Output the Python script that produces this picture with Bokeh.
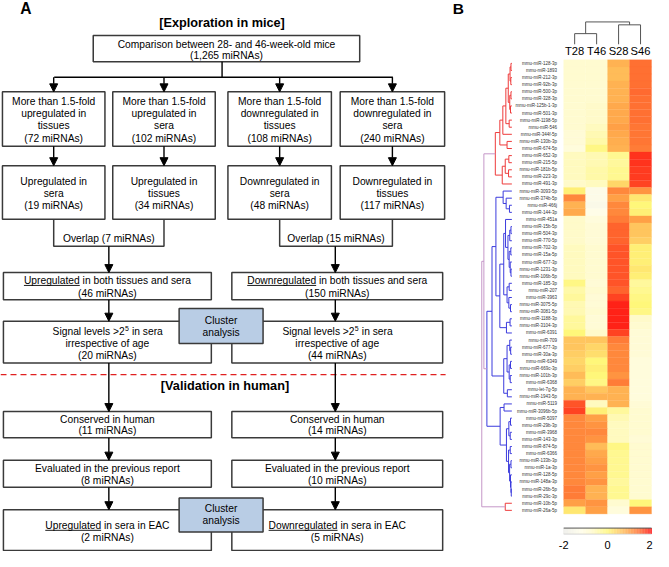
import numpy as np
from bokeh.plotting import figure
from bokeh.models import Range1d, Arrow, NormalHead, ColumnDataSource
from bokeh.layouts import row
from bokeh.embed import file_html
from bokeh.resources import INLINE
from bokeh.core.properties import value

# ===================== DATA: heatmap (panel B) =====================
mirnas = [
    "mmu-miR-128-3p", "mmu-miR-1893", "mmu-miR-212-3p", "mmu-miR-92b-3p", "mmu-miR-500-3p",
    "mmu-miR-328-3p", "mmu-miR-125b-1-3p", "mmu-miR-501-3p", "mmu-miR-1198-5p", "mmu-miR-546",
    "mmu-miR-344f-5p", "mmu-miR-130b-3p", "mmu-miR-674-5p", "mmu-miR-652-3p", "mmu-miR-215-5p",
    "mmu-miR-181b-5p", "mmu-miR-223-3p", "mmu-miR-491-3p", "mmu-miR-3093-5p", "mmu-miR-374b-5p",
    "mmu-miR-466j", "mmu-miR-144-3p", "mmu-miR-451a", "mmu-miR-15b-5p", "mmu-miR-504-3p",
    "mmu-miR-770-5p", "mmu-miR-702-3p", "mmu-miR-15a-5p", "mmu-miR-677-3p", "mmu-miR-1231-3p",
    "mmu-miR-106b-5p", "mmu-miR-185-3p", "mmu-miR-207", "mmu-miR-3963", "mmu-miR-3075-5p",
    "mmu-miR-3081-5p", "mmu-miR-1188-3p", "mmu-miR-3104-3p", "mmu-miR-6391", "mmu-miR-709",
    "mmu-miR-677-3p", "mmu-miR-30a-3p", "mmu-miR-6349", "mmu-miR-669c-3p", "mmu-miR-101b-3p",
    "mmu-miR-6368", "mmu-let-7g-5p", "mmu-miR-1943-5p", "mmu-miR-5119", "mmu-miR-3096b-5p",
    "mmu-miR-5097", "mmu-miR-29b-3p", "mmu-miR-3968", "mmu-miR-143-3p", "mmu-miR-874-5p",
    "mmu-miR-6366", "mmu-miR-133b-3p", "mmu-miR-1a-3p", "mmu-miR-128-5p", "mmu-miR-148a-3p",
    "mmu-miR-26b-5p", "mmu-miR-29c-3p", "mmu-miR-10b-5p", "mmu-miR-26a-5p",
]
samples = ["T28", "T46", "S28", "S46"]
t28 = [-0.8, -0.8, -0.8, -0.8, -0.8, -0.8, -0.8, -0.8, -0.8, -0.8,
       -0.9, -0.9, -1.0, -0.6, -0.6, -0.6, -0.6, -0.7, 0.1, 1.2,
       0.8, 0.9, -0.7, -0.7, -0.7, -0.7, -0.6, -0.6, -0.6, -0.6,
       -0.6, -0.1, -0.4, -0.3, -0.5, -0.5, -0.3, -0.3, 0.0, 0.6,
       0.6, 0.5, 0.4, 0.5, 0.7, 0.5, 0.8, 0.8, 1.6, 1.7,
       1.2, 1.2, 1.2, 1.2, 1.2, 1.2, 1.2, 1.2, 1.2, 1.2,
       1.3, 1.3, 1.0, 0.2]
t46 = [-0.8, -0.8, -0.8, -0.8, -0.8, -0.8, -0.7, -0.7, -0.7, -0.6,
       -0.5, -0.4, -0.1, -0.5, -0.5, -0.4, -0.4, -0.6, -1.3, -1.3,
       -1.4, -1.2, -1.0, -0.9, -0.9, -0.9, -0.8, -0.8, -0.8, -0.8,
       -0.8, -0.9, -0.8, -0.9, -0.9, -0.8, -0.9, -0.9, -0.7, 0.6,
       0.4, 0.3, 0.0, 0.1, 0.0, -0.1, 0.6, 0.8, -0.6, 0.1,
       1.0, 1.1, 1.2, 1.1, 0.7, 0.9, 1.0, 1.1, 1.0, 1.1,
       0.8, 0.8, 1.1, 1.0]
s28 = [0.8, 0.7, 0.7, 0.8, 0.8, 0.8, 0.9, 0.9, 0.9, 1.0,
       0.9, 0.85, 0.8, -0.2, -0.3, -0.2, -0.2, 0.4, 1.2, 1.0,
       1.2, 1.2, 1.3, 1.5, 1.5, 1.5, 1.6, 1.6, 1.6, 1.6,
       1.6, 1.6, 1.5, 1.7, 1.9, 1.9, 1.9, 1.9, 1.7, 1.3,
       1.2, 1.2, 1.2, 1.2, 1.1, 1.3, 0.8, 0.8, 0.8, -0.3,
       -0.5, -0.6, -0.6, -0.6, -0.1, -0.2, -0.2, -0.2, -0.2, -0.3,
       -0.2, -0.2, -0.8, -1.0]
s46 = [1.4, 1.4, 1.4, 1.4, 1.45, 1.4, 1.4, 1.4, 1.4, 1.35,
       1.35, 1.35, 1.3, 1.8, 1.8, 1.75, 1.75, 1.7, 1.1, 0.2,
       0.0, 0.1, 1.0, 0.6, 0.6, 0.5, 0.1, 0.1, 0.1, 0.2,
       0.1, -0.3, -0.2, -0.1, 0.0, -0.1, -0.7, -0.8, -0.9, -0.9,
       -0.9, -0.9, -1.0, -1.0, -1.0, -1.0, -1.0, -1.0, -0.9, -0.8,
       -0.8, -0.8, -0.8, -0.9, -0.8, -0.8, -0.8, -0.8, -0.8, -0.8,
       -0.8, -0.8, 0.0, 1.1]
# rows in the "upregulated" clusters (rest are "downregulated")
up_rows = list(range(0, 18)) + [62, 63]

# row dendrogram as nested (height, left, right); leaves are row indices
tree_A = (5.5,
          (4.0,
           (3.0,
            (2.0,
             (1.2, (0.6, (0.3, 0, 1), (0.35, 2, 3)), (0.7, (0.3, 4, 5), (0.45, 6, 7))),
             (0.9, 8, 9)),
            10),
           (1.6, 11, 12)),
          (3.2, (2.2, (1.0, 13, 14), (1.1, 15, 16)), 17))
tree_B1 = (5.3,
           (2.9, 18, (1.9, 19, (0.8, 20, 21))),
           (4.0,
            (2.7,
             (2.1, 22, (1.3, (0.7, (0.3, 23, 24), 25),
                        (0.9, (0.35, 26, 27), (0.55, 28, (0.3, 29, 30))))),
             (1.6, (0.9, 31, 32), (1.0, 33, (0.45, 34, 35)))),
            (1.8, (0.6, 36, 37), 38)))
tree_B2 = (2.7, (1.6, (0.7, 39, (0.4, 40, 41)), (0.9, (0.45, 42, 43), (0.55, 44, 45))),
           (1.5, 46, 47))
tree_B3 = (3.9, (2.6, 48, 49),
           (1.8, (1.0, (0.45, 50, 51), (0.55, 52, 53)),
            (1.1, (0.55, 54, 55), (0.75, (0.3, 56, 57), (0.45, 58, (0.3, 59, (0.2, 60, 61)))))))
tree_C = (2.2, 62, 63)
row_tree = (10.0, (9.3, tree_A, (8.3, (6.6, tree_B1, tree_B2), tree_B3)), tree_C)
col_tree = (3.15, (1.5, 0, 1), (2.74, 2, 3))

cbar_ticks = [-2, 0, 2]

# colour scale anchors (value -> rgb)
cmap_v = [-2.0, -1.2, -0.7, 0.0, 0.5, 1.0, 1.5, 2.0]
cmap_c = [(236, 236, 232), (255, 253, 232), (255, 250, 202), (255, 247, 122),
          (255, 206, 100), (255, 160, 70), (255, 100, 45), (255, 18, 18)]

# ===================== DATA: flowchart (panel A) texts =====================
top_text = ["Comparison between 28- and 46-week-old mice", "(1,265 miRNAs)"]
row2_text = [["More than 1.5-fold", "upregulated in", "tissues", "(72 miRNAs)"],
             ["More than 1.5-fold", "upregulated in", "sera", "(102 miRNAs)"],
             ["More than 1.5-fold", "downregulated in", "tissues", "(108 miRNAs)"],
             ["More than 1.5-fold", "downregulated in", "sera", "(240 miRNAs)"]]
row3_text = [["Upregulated in", "sera", "(19 miRNAs)"],
             ["Upregulated in", "tissues", "(34 miRNAs)"],
             ["Downregulated in", "sera", "(48 miRNAs)"],
             ["Downregulated in", "tissues", "(117 miRNAs)"]]
overlap_text = ["Overlap (7 miRNAs)", "Overlap (15 miRNAs)"]
row4_text = [("Upregulated", " in both tissues and sera", "(46 miRNAs)"),
             ("Downregulated", " in both tissues and sera", "(150 miRNAs)")]
row5_counts = ["(20 miRNAs)", "(44 miRNAs)"]
row6_text = [["Conserved in human", "(11 miRNAs)"], ["Conserved in human", "(14 miRNAs)"]]
row7_text = [["Evaluated in the previous report", "(8 miRNAs)"],
             ["Evaluated in the previous report", "(10 miRNAs)"]]
row8_text = [("Upregulated", " in sera in EAC", "(2 miRNAs)"),
             ("Downregulated", " in sera in EAC", "(5 miRNAs)")]

# ===================== helpers =====================
FONT = "Liberation Sans"
AW = {' ': 278, 'a': 556, 'b': 556, 'c': 500, 'd': 556, 'e': 556, 'f': 278, 'g': 556, 'h': 556,
      'i': 222, 'j': 222, 'k': 500, 'l': 222, 'm': 833, 'n': 556, 'o': 556, 'p': 556, 'q': 556,
      'r': 333, 's': 500, 't': 278, 'u': 556, 'v': 500, 'w': 722, 'x': 500, 'y': 500, 'z': 500,
      'A': 667, 'C': 722, 'D': 722, 'E': 667, 'N': 722, 'R': 722, 'U': 722, 'S': 667,
      '(': 333, ')': 333, ',': 278, '.': 278, '-': 333, '>': 584}


def tw(s, fs):
    return sum(AW.get(ch, 556) for ch in s) / 1000.0 * fs


KX = 449 / 460.0
FS = 10.5  # flowchart text size (reference px)


def px(v):
    return "%.2fpx" % (v * KX)


def cmap(v):
    v = max(-2.0, min(2.0, v))
    for i in range(len(cmap_v) - 1):
        if cmap_v[i] <= v <= cmap_v[i + 1]:
            t = (v - cmap_v[i]) / (cmap_v[i + 1] - cmap_v[i])
            c = [int(round(cmap_c[i][k] + t * (cmap_c[i + 1][k] - cmap_c[i][k]))) for k in range(3)]
            return "#%02x%02x%02x" % tuple(c)
    return "#ff0000"


# ===================== Panel A: flowchart =====================
pA = figure(width=449, height=551, x_range=Range1d(0, 460), y_range=Range1d(567, 0),
            output_backend="svg", toolbar_location=None, min_border=0,
            outline_line_color=None)
pA.axis.visible = False
pA.grid.visible = False

BOX_LC = "#3a3a3a"
BOX_LW = 1.5


def box(x0, x1, y0, y1, fill="white"):
    pA.quad(left=x0, right=x1, top=y0, bottom=y1, fill_color=fill,
            line_color=BOX_LC, line_width=BOX_LW)


def txt(x, y, s, fs=FS, bold=False, align="center", color="black"):
    pA.text(x=[x], y=[y], text=[s], text_font=value(FONT), text_font_size=px(fs),
            text_font_style="bold" if bold else "normal", text_align=align,
            text_baseline="middle", text_color=color)


def under_text(cx, y, first, rest, fs=FS):
    w1 = tw(first, fs)
    w = w1 + tw(rest, fs)
    x0 = cx - w / 2
    txt(x0, y, first + rest, fs, align="left")
    pA.segment(x0=[x0], y0=[y + 5.2], x1=[x0 + w1], y1=[y + 5.2], line_color="black", line_width=0.9)


arrows = {"x0": [], "y0": [], "x1": [], "y1": []}


def arrow(x, y0, y1):
    arrows["x0"].append(x); arrows["y0"].append(y0)
    arrows["x1"].append(x); arrows["y1"].append(y1)


txt(26, 8, "A", fs=16, bold=True)
txt(227, 23, "[Exploration in mice]", fs=13, bold=True)

# top box
box(95, 368, 36, 63)
txt(231.5, 45, top_text[0]); txt(231.5, 57, top_text[1])
pA.segment(x0=[227, 55], y0=[63, 79], x1=[227, 402], y1=[79, 79], line_color="black", line_width=1.4)

cols4 = [(2, 107), (115, 220), (233, 339), (348, 455)]
cx4 = [(a + b) / 2 for a, b in cols4]
for (a, b), lines, c in zip(cols4, row2_text, cx4):
    arrow(c, 79, 94)
    box(a, b, 94, 150)
    for ln, yy in zip(lines, [104, 116.5, 129, 141.5]):
        txt(c, yy, ln)
    arrow(c, 150, 170)
for (a, b), lines, c in zip(cols4, row3_text, cx4):
    box(a, b, 170, 225)
    for ln, yy in zip(lines, [186, 198.5, 211]):
        txt(c, yy, ln)

# overlap connectors
for (ca, cb), t in zip([(cx4[0], cx4[1]), (cx4[2], cx4[3])], overlap_text):
    pA.line(x=[ca, ca, cb, cb], y=[225, 253, 253, 225], line_color=BOX_LC, line_width=BOX_LW)
    txt((ca + cb) / 2, 244.5, t)

left2 = (3, 216)
right2 = (237, 453)
cl = 111
cr = 343
arrow(cl, 253, 280); arrow(cr, 253, 280)

for (a, b), c, (f, r, n) in zip([left2, right2], [cl, cr], row4_text):
    box(a, b, 280, 308)
    under_text((a + b) / 2, 288, f, r)
    txt((a + b) / 2, 301, n)
    arrow(c, 308, 330)
    box(a, b, 330, 373)
    # "Signal levels >2^5 in sera"
    fsup = FS * 0.68
    p1, p2 = "Signal levels >2", " in sera"
    w = tw(p1, FS) + tw("5", fsup) + tw(p2, FS)
    x0 = (a + b) / 2 - w / 2
    txt(x0, 341, p1, align="left")
    txt(x0 + tw(p1, FS) + 0.3, 337.5, "5", fs=fsup, align="left")
    txt(x0 + tw(p1, FS) + tw("5", fsup) + tw(" ", FS) + 0.6, 341, p2.strip(), align="left")
    txt((a + b) / 2, 353, "irrespective of age")

for i, n in enumerate(row5_counts):
    a, b = [left2, right2][i]
    txt((a + b) / 2, 365, n)

box(183, 269, 317, 353, fill="#b9cde5")
txt(226, 329, "Cluster"); txt(226, 341.5, "analysis")

# divider
pA.line(x=[0, 456], y=[385, 385], line_color="#e02020", line_width=1.4, line_dash="6 4")
txt(230, 397, "[Validation in human]", fs=13, bold=True)

for (a, b), c, t6, t7, (f, r, n) in zip([left2, right2], [cl, cr], row6_text, row7_text, row8_text):
    arrow(c, 373, 423)
    box(a, b, 423, 450)
    txt((a + b) / 2, 431, t6[0]); txt((a + b) / 2, 443, t6[1])
    arrow(c, 450, 473)
    box(a, b, 473, 501)
    txt((a + b) / 2, 482, t7[0]); txt((a + b) / 2, 494, t7[1])
    arrow(c, 501, 524)
    box(a, b, 524, 566)
    under_text((a + b) / 2, 540, f, r)
    txt((a + b) / 2, 553, n)

box(183, 269, 512, 547, fill="#b9cde5")
txt(226, 523, "Cluster"); txt(226, 535.5, "analysis")

pA.add_layout(Arrow(end=NormalHead(size=8, fill_color="black", line_color="black"),
                    source=ColumnDataSource(arrows), x_start="x0", y_start="y0",
                    x_end="x1", y_end="y1", line_color="black", line_width=1.4))

# ===================== Panel B: heatmap + dendrograms =====================
pB = figure(width=204, height=551, x_range=Range1d(-5.2, 4.09), y_range=Range1d(69.3, -8.36),
            output_backend="svg", toolbar_location=None, min_border=0,
            outline_line_color=None)
pB.axis.visible = False
pB.grid.visible = False

n_rows = len(mirnas)
vals = np.array([t28, t46, s28, s46]).T  # rows x 4
hx, hy, hc = [], [], []
for r in range(n_rows):
    for c in range(4):
        hx.append(c + 0.5); hy.append(r + 0.5); hc.append(cmap(vals[r, c]))
pB.rect(x=hx, y=hy, width=1.0, height=1.0, fill_color=hc, line_color=hc, line_width=0.3)

# row labels
pB.text(x=[-0.3] * n_rows, y=[r + 0.5 for r in range(n_rows)], text=mirnas,
        text_font=value(FONT), text_font_size="4.5px", text_align="right",
        text_baseline="middle", text_color="#333333")

# row dendrogram
LEAF_X = -2.36
HS = 0.137
up_set = set(up_rows)
segs = {"x0": [], "y0": [], "x1": [], "y1": [], "c": []}


def hxpos(h):
    return LEAF_X - h * HS


def walk(node):
    if isinstance(node, int):
        return node + 0.5, 0.0, {node}
    h, l, r = node
    yl, hl, sl = walk(l)
    yr, hr, sr = walk(r)
    leaves = sl | sr
    if leaves <= up_set:
        col = "#ee3b3b"
    elif not (leaves & up_set):
        col = "#3b3bdd"
    else:
        col = "#c597c8"
    for (yy, hh) in [(yl, hl), (yr, hr)]:
        segs["x0"].append(hxpos(hh)); segs["y0"].append(yy)
        segs["x1"].append(hxpos(h)); segs["y1"].append(yy); segs["c"].append(col)
    segs["x0"].append(hxpos(h)); segs["y0"].append(yl)
    segs["x1"].append(hxpos(h)); segs["y1"].append(yr); segs["c"].append(col)
    return (yl + yr) / 2, h, leaves


walk(row_tree)
pB.segment(x0="x0", y0="y0", x1="x1", y1="y1", line_color="c", line_width=1.0,
           source=ColumnDataSource(segs))

# column dendrogram
CLEAF_Y = -2.19
csegs = {"x0": [], "y0": [], "x1": [], "y1": []}


def cwalk(node):
    if isinstance(node, int):
        return node + 0.5, 0.0
    h, l, r = node
    xl, hl = cwalk(l)
    xr, hr = cwalk(r)
    for (xx, hh) in [(xl, hl), (xr, hr)]:
        csegs["x0"].append(xx); csegs["y0"].append(CLEAF_Y - hh)
        csegs["x1"].append(xx); csegs["y1"].append(CLEAF_Y - h)
    csegs["x0"].append(xl); csegs["y0"].append(CLEAF_Y - h)
    csegs["x1"].append(xr); csegs["y1"].append(CLEAF_Y - h)
    return (xl + xr) / 2, h


cwalk(col_tree)
pB.segment(x0="x0", y0="y0", x1="x1", y1="y1", line_color="#555555", line_width=1.0,
           source=ColumnDataSource(csegs))

pB.text(x=[i + 0.5 for i in range(4)], y=[-1.3] * 4, text=samples, text_font=value(FONT),
        text_font_size="11.2px", text_align="center", text_baseline="middle", text_color="black")

pB.text(x=[-5.05], y=[-7.25], text=["B"], text_font=value(FONT), text_font_size="15.5px",
        text_font_style="bold", text_align="left", text_baseline="middle")

# colour bar
cb_vals = np.linspace(-2, 2, 120)
cb_w = 4.0 / len(cb_vals)
cb_x = [(v + 2) / 4 * 4.0 for v in cb_vals]
cb_c = [cmap(v) for v in cb_vals]
pB.rect(x=cb_x, y=[66.42] * len(cb_x), width=cb_w * 1.05, height=0.85,
        fill_color=cb_c, line_color=None)
pB.segment(x0=[0], y0=[66.0], x1=[4.0], y1=[66.0], line_color="#555555", line_width=1.0)
pB.segment(x0=[0], y0=[66.85], x1=[4.0], y1=[66.85], line_color="#cccccc", line_width=0.8)
pB.text(x=[(t + 2) for t in cbar_ticks[:-1]], y=[68.4] * 2, text=[str(t) for t in cbar_ticks[:-1]],
        text_font=value(FONT), text_font_size="11px", text_align="center",
        text_baseline="middle", text_color="black")
pB.text(x=[cbar_ticks[-1] + 2.05], y=[68.4], text=[str(cbar_ticks[-1])],
        text_font=value(FONT), text_font_size="11px", text_align="right",
        text_baseline="middle", text_color="black")

layout = row(pA, pB)
open("out.html", "w").write(file_html(layout, INLINE))
